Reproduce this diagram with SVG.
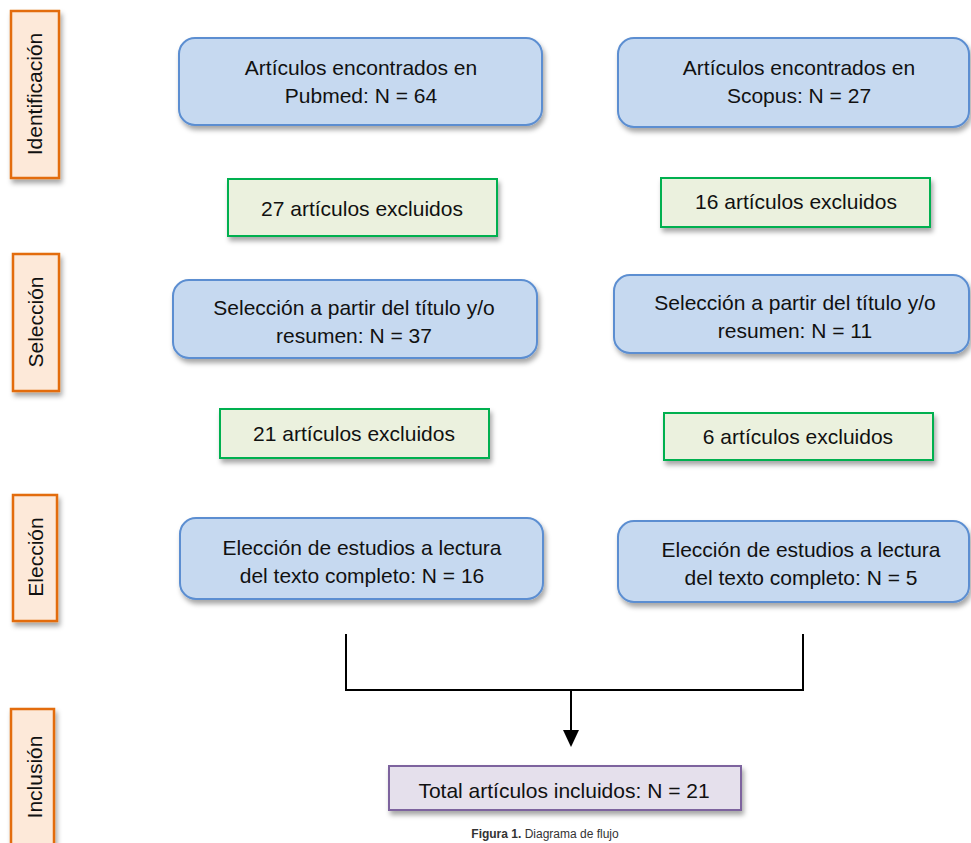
<svg xmlns="http://www.w3.org/2000/svg" width="971" height="843" viewBox="0 0 971 843">
<defs>
<filter id="sh" x="-10%" y="-10%" width="130%" height="140%">
<feDropShadow dx="2" dy="4" stdDeviation="2.5" flood-color="#000" flood-opacity="0.35"/>
</filter>
</defs>
<style>
text{font-family:"Liberation Sans",Arial,sans-serif;font-size:21px;fill:#111;}
.c{text-anchor:middle;}
.lab{fill:#fde9d9;stroke:#e36c0a;stroke-width:2.5;filter:url(#sh);}
.blue{fill:#c6d9f0;stroke:#5b8ed1;stroke-width:2;filter:url(#sh);}
.green{fill:#ebf1de;stroke:#00b050;stroke-width:2;filter:url(#sh);}
.purple{fill:#e5e0ec;stroke:#7d649e;stroke-width:2;filter:url(#sh);}
.con{fill:none;stroke:#000;stroke-width:2;}
</style>
<rect width="971" height="843" fill="#fff"/>
<g id="lab-identificacion"><rect class="lab" x="11" y="11" width="48" height="167"/><text class="c" transform="translate(42,94) rotate(-90)">Identificación</text></g>
<g id="lab-seleccion"><rect class="lab" x="13" y="254" width="46" height="137"/><text class="c" transform="translate(43,322) rotate(-90)">Selección</text></g>
<g id="lab-eleccion"><rect class="lab" x="13" y="495" width="44" height="126"/><text class="c" transform="translate(43,557) rotate(-90)">Elección</text></g>
<g id="lab-inclusion"><rect class="lab" x="11" y="709" width="43" height="150"/><text class="c" transform="translate(42,777) rotate(-90)">Inclusión</text></g>
<g id="pubmed"><rect class="blue" x="179" y="38" width="363" height="87" rx="16"/><text class="c" x="361" y="75">Artículos encontrados en</text><text class="c" x="361" y="103">Pubmed: N = 64</text></g>
<g id="scopus"><rect class="blue" x="618" y="38" width="351" height="89" rx="16"/><text class="c" x="799" y="75">Artículos encontrados en</text><text class="c" x="799" y="103">Scopus: N = 27</text></g>
<g id="excl27"><rect class="green" x="228" y="179" width="269" height="57"/><text class="c" x="362" y="216">27 artículos excluidos</text></g>
<g id="excl16"><rect class="green" x="661" y="178" width="269" height="49"/><text class="c" x="796" y="209">16 artículos excluidos</text></g>
<g id="sel37"><rect class="blue" x="173" y="280" width="364" height="78" rx="16"/><text class="c" x="354" y="315">Selección a partir del título y/o</text><text class="c" x="354" y="343">resumen: N = 37</text></g>
<g id="sel11"><rect class="blue" x="614" y="275" width="355" height="78" rx="16"/><text class="c" x="795" y="310">Selección a partir del título y/o</text><text class="c" x="795" y="338">resumen: N = 11</text></g>
<g id="excl21"><rect class="green" x="220" y="409" width="269" height="49"/><text class="c" x="354" y="441">21 artículos excluidos</text></g>
<g id="excl6"><rect class="green" x="664" y="413" width="269" height="47"/><text class="c" x="798" y="444">6 artículos excluidos</text></g>
<g id="ele16"><rect class="blue" x="180" y="518" width="363" height="81" rx="16"/><text class="c" x="362" y="555">Elección de estudios a lectura</text><text class="c" x="362" y="583">del texto completo: N = 16</text></g>
<g id="ele5"><rect class="blue" x="618" y="521" width="351" height="81" rx="16"/><text class="c" x="801" y="557">Elección de estudios a lectura</text><text class="c" x="801" y="585">del texto completo: N = 5</text></g>
<g id="connectors">
<polyline class="con" points="346,634 346,690 803,690 803,634"/>
<line class="con" x1="571" y1="690" x2="571" y2="731"/>
<polygon points="563,730 579,730 571,747" fill="#000"/>
</g>
<g id="total"><rect class="purple" x="389" y="766" width="352" height="44"/><text class="c" x="564" y="798">Total artículos incluidos: N = 21</text></g>
<text class="c" x="545" y="838" style="font-size:12px;fill:#333"><tspan font-weight="bold">Figura 1.</tspan> Diagrama de flujo</text>
</svg>
